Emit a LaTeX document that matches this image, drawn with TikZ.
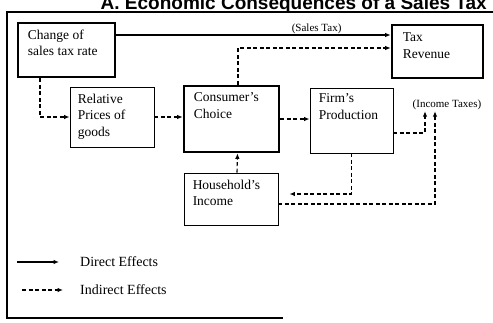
\documentclass[tikz,border=0pt]{standalone}
\usepackage{fontspec}
\setmainfont{Liberation Serif}
\newfontfamily\headfont{Liberation Sans}
\usetikzlibrary{arrows.meta,positioning,calc}

\begin{document}
\begin{tikzpicture}[x=1pt,y=-1pt,
  plainbox/.style={draw,line width=0.9pt,inner sep=0pt},
  heavybox/.style={draw,line width=2.6pt,inner sep=0pt},
  boxtext/.style={anchor=north west,align=left,inner sep=0pt,font=\fontsize{13.5}{16.5}\selectfont},
  tag/.style={inner sep=1pt,font=\fontsize{11}{13}\selectfont},
  keytext/.style={anchor=west,inner sep=0pt,font=\fontsize{14}{16}\selectfont},
  direct/.style={-{Latex[length=5.5pt,width=4.5pt]},line width=1.1pt},
  indirect/.style={-{Latex[length=5.5pt,width=4.5pt]},line width=1.1pt,dash pattern=on 4pt off 2.5pt}
]
  \fill[white] (0,0) rectangle (493,322);
  \useasboundingbox (0,0) rectangle (493,322);
  % frame and title (cut off at the top)
  \node[anchor=base east,inner sep=0pt,font=\headfont\bfseries\fontsize{19}{22}\selectfont] (title) at (487,9) {A. Economic Consequences of a Sales Tax};
  \draw[line width=1.1pt] (493,12) -- (7,12) -- (7,318) -- (283,318);

  % boxes
  \node[heavybox,minimum width=97pt,minimum height=54pt] (change) at (66.5,50) {};
  \node[boxtext] (changeT) at ([shift={(11pt,-8pt)}]change.north west) {Change of\\sales tax rate};
  \node[heavybox,minimum width=91pt,minimum height=53pt] (taxrev) at (437.5,51.5) {};
  \node[boxtext] (taxrevT) at ([shift={(12pt,-9pt)}]taxrev.north west) {Tax\\Revenue};
  \node[plainbox,minimum width=84pt,minimum height=60pt] (relprice) at (112,117) {};
  \node[boxtext] (relpriceT) at ([shift={(8pt,-7pt)}]relprice.north west) {Relative\\Prices of\\goods};
  \node[heavybox,minimum width=95pt,minimum height=66pt] (consumer) at (231.5,119) {};
  \node[boxtext] (consumerT) at ([shift={(11pt,-8pt)}]consumer.north west) {Consumer's\\Choice};
  \node[plainbox,minimum width=83pt,minimum height=65pt] (firm) at (351.5,120.5) {};
  \node[boxtext] (firmT) at ([shift={(9pt,-6pt)}]firm.north west) {Firm's\\Production};
  \node[plainbox,minimum width=94pt,minimum height=52pt] (household) at (231,199) {};
  \node[boxtext] (householdT) at ([shift={(9pt,-7pt)}]household.north west) {Household's\\Income};
  \node[tag] (inctax) at (447,105) {(Income Taxes)};

  % effects
  \draw[direct] ([yshift=15pt]change.east) -- node[tag,above,pos=0.73] (salestax) {(Sales Tax)} ([yshift=16.5pt]taxrev.west);
  \draw[indirect] ([xshift=6.5pt]consumer.north) |- ([yshift=3.5pt]taxrev.west);
  \draw[indirect] ([xshift=-26.5pt]change.south) |- (relprice.west);
  \draw[indirect] (relprice.east) -- (relprice.east -| consumer.west);
  \draw[indirect] (consumer.east) -- (consumer.east -| firm.west);
  \draw[indirect] ([xshift=6pt]household.north) -- ([xshift=6pt]consumer.south);
  \draw[indirect,shorten >=11pt] (firm.south) |- ([yshift=5pt]household.east);
  \draw[indirect] ([yshift=-12.5pt]firm.east) -| ([xshift=-22pt]inctax.south);
  \draw[indirect] ([yshift=-5pt]household.east) -| ([xshift=-12pt]inctax.south);

  % key
  \node[keytext] (directkey) at (80,262) {Direct Effects};
  \coordinate (directstart) at (17,262);
  \draw[direct,shorten >=21pt] (directstart) -- (directkey.west);
  \node[keytext] (indirectkey) at (80,290) {Indirect Effects};
  \coordinate (indirectstart) at (22,290);
  \draw[indirect,shorten >=17pt] (indirectstart) -- (indirectkey.west);
\end{tikzpicture}
\end{document}
